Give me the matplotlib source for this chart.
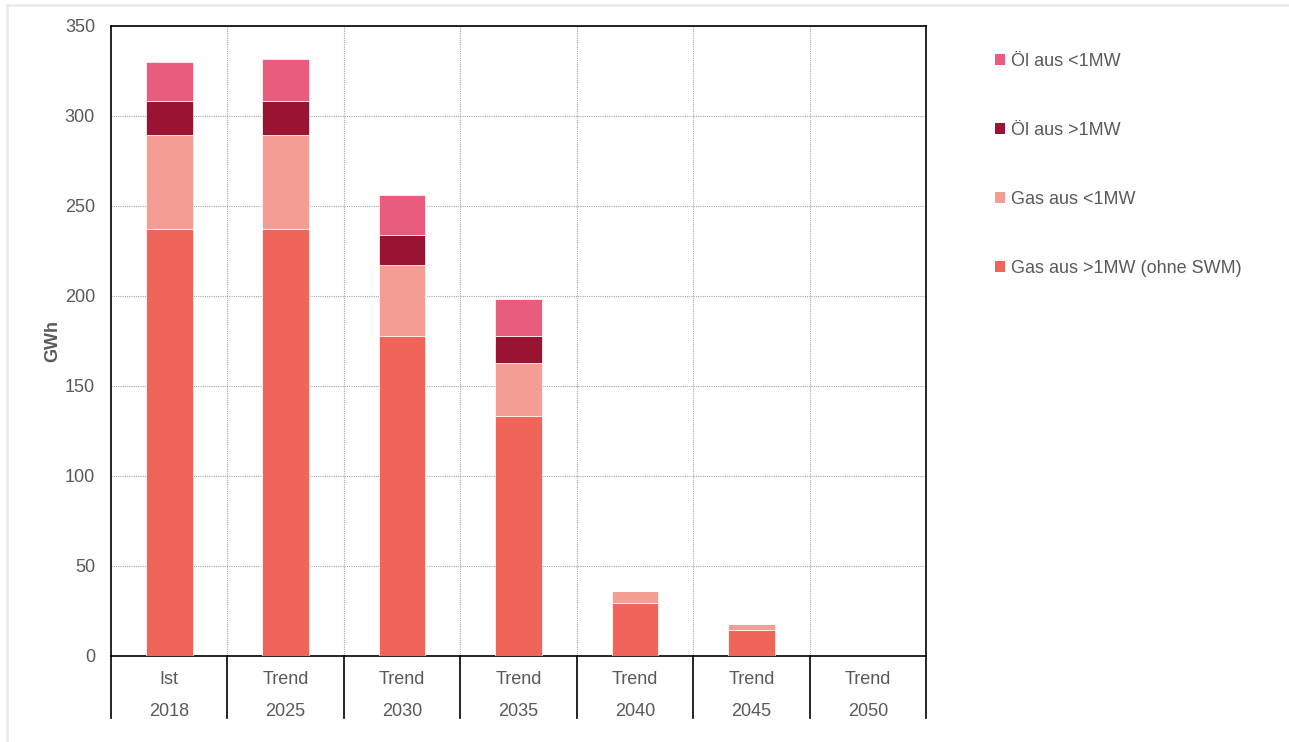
"""Wärmeerzeugung aus Öl und Gas - gestapeltes Balkendiagramm."""
import numpy as np
from matplotlib import pyplot as plt
from matplotlib.patches import Patch
from matplotlib.lines import Line2D
from matplotlib import transforms

plt.rcParams['font.family'] = ['Liberation Sans', 'DejaVu Sans']

scenarios = ['Ist', 'Trend', 'Trend', 'Trend', 'Trend', 'Trend', 'Trend']
years = ['2018', '2025', '2030', '2035', '2040', '2045', '2050']

gas_gross = [237.2, 237.2, 177.8, 133.3, 29.4, 14.7, 0]
gas_klein = [52.2, 52.2, 39.4, 29.5, 6.7, 3.1, 0]
oel_gross = [18.9, 18.9, 16.7, 15.0, 0, 0, 0]
oel_klein = [21.7, 23.4, 22.2, 20.5, 0, 0, 0]

series = [
    ('Gas aus >1MW (ohne SWM)', gas_gross, '#f0655a'),
    ('Gas aus <1MW', gas_klein, '#f49d94'),
    ('Öl aus >1MW', oel_gross, '#991432'),
    ('Öl aus <1MW', oel_klein, '#e95c7e'),
]

TEXT = '#595959'
FS = 13

fig = plt.figure(figsize=(12.89, 7.42), dpi=100)
# heller Rahmen oben und links
fig.lines.append(Line2D([7 / 1289, 1], [1 - 5 / 742, 1 - 5 / 742],
                        transform=fig.transFigure, color='#ebebeb', lw=2))
fig.lines.append(Line2D([7 / 1289, 7 / 1289], [0, 1 - 5 / 742],
                        transform=fig.transFigure, color='#ebebeb', lw=2))

ax = fig.add_axes([111 / 1289, 86 / 742, 815 / 1289, 630 / 742])

x = np.arange(len(years))
bottom = np.zeros(len(years))
for name, values, color in series:
    ax.bar(x, values, width=0.4, bottom=bottom, color=color,
           edgecolor='#ffffff', linewidth=0.5, label=name, zorder=3)
    bottom += np.array(values)

ax.set_xlim(-0.5, len(years) - 0.5)
ax.set_ylim(0, 350)
ax.set_yticks(np.arange(0, 351, 50))
ax.set_xticks([])
ax.set_xticks(np.arange(0.5, len(years) - 0.5), minor=True)
ax.tick_params(axis='x', which='both', length=0)
ax.tick_params(axis='y', length=0, labelsize=FS, labelcolor=TEXT, pad=11.5)
ax.grid(axis='y', color='#a6a6a6', linestyle=(0, (1, 1)), linewidth=0.8,
        zorder=0)
ax.grid(axis='x', which='minor', color='#a6a6a6', linestyle=(0, (1, 1)),
        linewidth=0.8, zorder=0)
for s in ax.spines.values():
    s.set_color('#000000')
    s.set_linewidth(1.2)

ax.set_ylabel('GWh', fontsize=FS, fontweight='bold', color=TEXT)
ax.yaxis.set_label_coords((61 - 111) / 815, 0.5)

# zweistufige Kategorienachse
trans = transforms.blended_transform_factory(ax.transData, ax.transAxes)
for b in np.arange(-0.5, len(years)):
    ax.plot([b, b], [0, -62 / 630], transform=trans, color='#000000',
            linewidth=1.2, clip_on=False)
for i in range(len(years)):
    ax.text(x[i], -24 / 630, scenarios[i], transform=trans, ha='center',
            va='center', fontsize=FS, color=TEXT)
    ax.text(x[i], -56 / 630, years[i], transform=trans, ha='center',
            va='center', fontsize=FS, color=TEXT)

handles = [Patch(facecolor=c, edgecolor='none', label=n)
           for n, _, c in series[::-1]]
fig.legend(handles=handles, loc='upper left',
           bbox_to_anchor=(988 / 1289, 1 - 46 / 742), frameon=False,
           fontsize=FS, labelcolor=TEXT, handlelength=0.55, handleheight=0.55,
           handletextpad=0.3, labelspacing=2.88, borderaxespad=0)

plt.savefig('out.png', dpi=100)
